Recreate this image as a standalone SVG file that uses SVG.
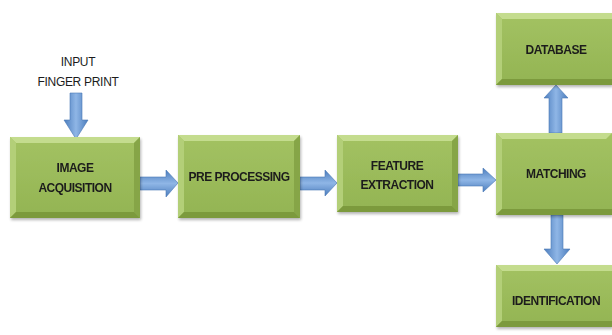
<svg xmlns="http://www.w3.org/2000/svg" width="612" height="335" viewBox="0 0 612 335">
  <style>
    .lbl { font-family: "Liberation Sans", Arial, sans-serif; font-weight: bold; font-size: 12px; letter-spacing: -0.5px; fill: #1c1c1c; text-anchor: middle; }
    .in { font-family: "Liberation Sans", Arial, sans-serif; font-size: 12px; letter-spacing: -0.3px; fill: #1c1c1c; text-anchor: middle; }
    .face { fill: url(#g-face); }
    .bevel-t { fill: #c4dc8e; }
    .bevel-l { fill: #b3cf78; }
    .bevel-r { fill: #86a547; }
    .bevel-b { fill: #7b9a3d; }
    .arr { fill: url(#g-arr-h); stroke: #4a78b5; stroke-width: 0.6; }
    .arr-v { fill: url(#g-arr-v); stroke: #4a78b5; stroke-width: 0.6; }
  </style>
  <defs>
    <linearGradient id="g-face" x1="0" y1="0" x2="0" y2="1">
      <stop offset="0" stop-color="#a3c262"/>
      <stop offset="1" stop-color="#93b453"/>
    </linearGradient>
    <linearGradient id="g-arr-h" x1="0" y1="0" x2="0" y2="1">
      <stop offset="0" stop-color="#4c7dbd"/>
      <stop offset="0.5" stop-color="#8fb6e6"/>
      <stop offset="1" stop-color="#4c7dbd"/>
    </linearGradient>
    <linearGradient id="g-arr-v" x1="0" y1="0" x2="1" y2="0">
      <stop offset="0" stop-color="#4c7dbd"/>
      <stop offset="0.5" stop-color="#8fb6e6"/>
      <stop offset="1" stop-color="#4c7dbd"/>
    </linearGradient>
    <filter id="shadow" x="-10%" y="-10%" width="125%" height="130%">
      <feGaussianBlur in="SourceAlpha" stdDeviation="1.5"/>
      <feOffset dx="1" dy="2"/>
      <feComponentTransfer><feFuncA type="linear" slope="0.3"/></feComponentTransfer>
      <feMerge><feMergeNode/><feMergeNode in="SourceGraphic"/></feMerge>
    </filter>
  </defs>

  <rect width="612" height="335" fill="#ffffff"/>

  <!-- input label -->
  <g id="input">
    <text class="in" x="78" y="66">INPUT</text>
    <text class="in" x="78" y="86">FINGER PRINT</text>
  </g>

  <!-- connectors -->
  <g id="connectors">
    <!-- input down arrow -->
    <polygon class="arr-v" points="70,93 82,93 82,120 88,120 76,139 64,120 70,120"/>
    <!-- image acquisition -> pre processing -->
    <polygon class="arr" points="140,177 166,177 166,170 178,183 166,197 166,190 140,190"/>
    <!-- pre processing -> feature extraction -->
    <polygon class="arr" points="300,177 325,177 325,170 337,183 325,196 325,190 300,190"/>
    <!-- feature extraction -> matching -->
    <polygon class="arr" points="458,174 483,174 483,168 496,180 483,192 483,186 458,186"/>
    <!-- matching -> database -->
    <polygon class="arr-v" points="549,133 562,133 562,98 568,98 556,85 544,98 549,98"/>
    <!-- matching -> identification -->
    <polygon class="arr-v" points="551,215 563,215 563,249 570,249 557,264 544,249 551,249"/>
  </g>

  <g id="image-acquisition" filter="url(#shadow)">
    <rect class="face" x="10" y="137" width="130" height="81"/>
    <polygon class="bevel-t" points="10,137 140,137 134,143 16,143"/>
    <polygon class="bevel-l" points="10,137 16,143 16,212 10,218"/>
    <polygon class="bevel-r" points="140,137 140,218 134,212 134,143"/>
    <polygon class="bevel-b" points="10,218 16,212 134,212 140,218"/>
    <text class="lbl" x="75" y="172">IMAGE</text>
    <text class="lbl" x="75" y="192">ACQUISITION</text>
  </g>

  <g id="pre-processing" filter="url(#shadow)">
    <rect class="face" x="178" y="135" width="122" height="83"/>
    <polygon class="bevel-t" points="178,135 300,135 294,141 184,141"/>
    <polygon class="bevel-l" points="178,135 184,141 184,212 178,218"/>
    <polygon class="bevel-r" points="300,135 300,218 294,212 294,141"/>
    <polygon class="bevel-b" points="178,218 184,212 294,212 300,218"/>
    <text class="lbl" x="239" y="181">PRE PROCESSING</text>
  </g>

  <g id="feature-extraction" filter="url(#shadow)">
    <rect class="face" x="337" y="135" width="121" height="77"/>
    <polygon class="bevel-t" points="337,135 458,135 452,141 343,141"/>
    <polygon class="bevel-l" points="337,135 343,141 343,206 337,212"/>
    <polygon class="bevel-r" points="458,135 458,212 452,206 452,141"/>
    <polygon class="bevel-b" points="337,212 343,206 452,206 458,212"/>
    <text class="lbl" x="397" y="170">FEATURE</text>
    <text class="lbl" x="397" y="189">EXTRACTION</text>
  </g>

  <g id="matching" filter="url(#shadow)">
    <rect class="face" x="496" y="133" width="116" height="82"/>
    <polygon class="bevel-t" points="496,133 612,133 606,139 502,139"/>
    <polygon class="bevel-l" points="496,133 502,139 502,209 496,215"/>
    <polygon class="bevel-b" points="496,215 502,209 612,209 612,215"/>
    <text class="lbl" x="556" y="178">MATCHING</text>
  </g>

  <g id="database" filter="url(#shadow)">
    <rect class="face" x="496" y="13" width="116" height="72"/>
    <polygon class="bevel-t" points="496,13 612,13 612,19 502,19"/>
    <polygon class="bevel-l" points="496,13 502,19 502,79 496,85"/>
    <polygon class="bevel-b" points="496,85 502,79 612,79 612,85"/>
    <text class="lbl" x="556" y="54">DATABASE</text>
  </g>

  <g id="identification" filter="url(#shadow)">
    <rect class="face" x="496" y="265" width="116" height="62"/>
    <polygon class="bevel-t" points="496,265 612,265 612,271 502,271"/>
    <polygon class="bevel-l" points="496,265 502,271 502,321 496,327"/>
    <polygon class="bevel-b" points="496,327 502,321 612,321 612,327"/>
    <text class="lbl" x="556" y="305">IDENTIFICATION</text>
  </g>
</svg>
